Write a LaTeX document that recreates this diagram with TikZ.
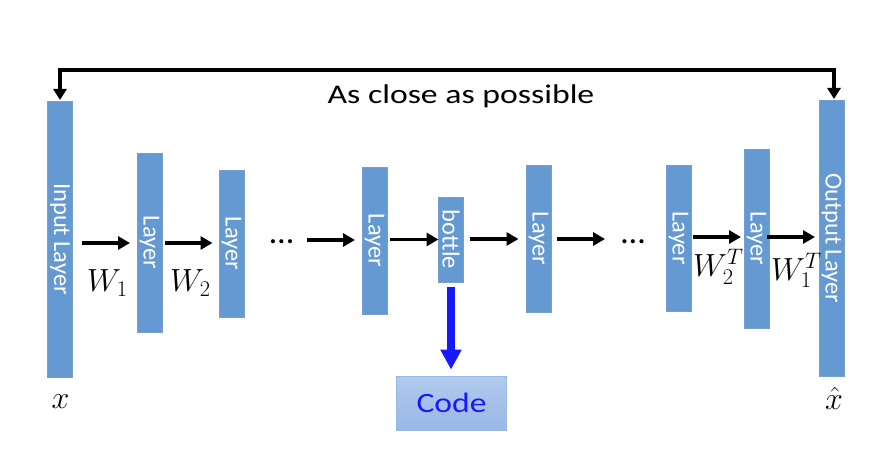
\RequirePackage{fix-cm}
\documentclass[tikz,border=0pt]{standalone}
\usepackage{fontspec}
\setmainfont{Carlito}
\usepackage{graphicx}
\usetikzlibrary{arrows.meta}
\begin{document}
\begin{tikzpicture}[x = 1pt, y = -1pt,
  layerbox/.style = {draw = boxedge, fill = boxblue, line width = 0.8pt, minimum width = 25pt, inner sep = 0pt, outer sep = 0pt, text = white, font = \fontsize{24.5}{24.5}\selectfont},
  flow/.style = {line width = 3.5pt, -{Triangle[length = 12pt, width = 13pt]}},
  weight/.style = {font = \fontsize{32}{32}\selectfont, inner sep = 0pt},
  gap/.style = {font = \fontsize{34}{34}\selectfont, inner sep = 0pt, anchor = base}]
\definecolor{boxblue}{RGB}{101,153,209}
\definecolor{boxedge}{RGB}{118,158,208}
\definecolor{codeblue}{RGB}{24,24,255}
\definecolor{codetop}{RGB}{178,202,238}
\definecolor{codebottom}{RGB}{152,184,230}
\useasboundingbox (0,0) rectangle (880,468);
\foreach \name/\cx/\ytop/\ybot/\txt in {input/60/101/377/Input Layer, l1/149.5/153/332/Layer, l2/231.5/170/317/Layer, l3/374.5/167/314/Layer, bottle/451/197/282/bottle, l4/538.5/165/312/Layer, l5/678.5/165/311/Layer, l6/756.5/149/328/Layer, output/831.5/100/376/Output Layer}
  \node[layerbox, minimum height = \ybot-\ytop] (\name) at (\cx,{(\ytop+\ybot)/2}) {\rotatebox{-90}{\txt}};
\node[gap] (dots1) at (281.5,243.5) {\textellipsis};
\node[gap] (dots2) at (633,243.5) {\textellipsis};
\foreach \from/\to/\y/\sa/\sb in {input/l1/243/9.5/7, l1/l2/243/2.5/6.5, dots1/l3/240/14/7, l3/bottle/239.5/2.5/0, bottle/l4/239/6/7.5, l4/dots2/239/6/16, l5/l6/237/2/3, l6/output/237/-2/4}
  \draw[flow, shorten <= \sa pt, shorten >= \sb pt] (\from.east |- 0,\y) -- (\to.west |- 0,\y);
\node[weight, anchor = base west] (w1) at (87,291.5) {$W_1$};
\node[weight, anchor = base west] (w2) at (170,291.5) {$W_2$};
\node[weight, anchor = base west] (w2t) at (693,276.5) {$W_2^T$};
\node[weight, anchor = base west] (w1t) at (771,280) {$W_1^T$};
\node[weight, anchor = base] (xin) at (60.5,408) {$x$};
\node[weight, anchor = base] (xout) at (834,409) {$\hat{x}$};
\coordinate (top) at (446,70);
\draw[line width = 3.5pt, {Triangle[length = 11pt, width = 13pt]}-{Triangle[length = 11pt, width = 13pt]}, shorten <= 1pt, shorten >= 1pt] (input.north) |- (top) -| ([xshift = 2.5pt]output.north);
\node[inner sep = 0pt, anchor = base, font = \fontsize{27}{27}\selectfont] (close) at (461,103) {\scalebox{1.25}[1]{As close as possible}};
\node[draw = codebottom, line width = 0.8pt, top color = codetop, bottom color = codebottom, minimum width = 110pt, minimum height = 54pt, text = codeblue, font = \fontsize{28}{28}\selectfont] (code) at (451.5,403) {\scalebox{1.2}[1]{Code}};
\draw[line width = 7.5pt, codeblue, -{Triangle[length = 20pt, width = 20pt]}, shorten <= 4.5pt, shorten >= 6pt] (bottle.south) -- (bottle.south |- code.north);
\end{tikzpicture}
\end{document}
